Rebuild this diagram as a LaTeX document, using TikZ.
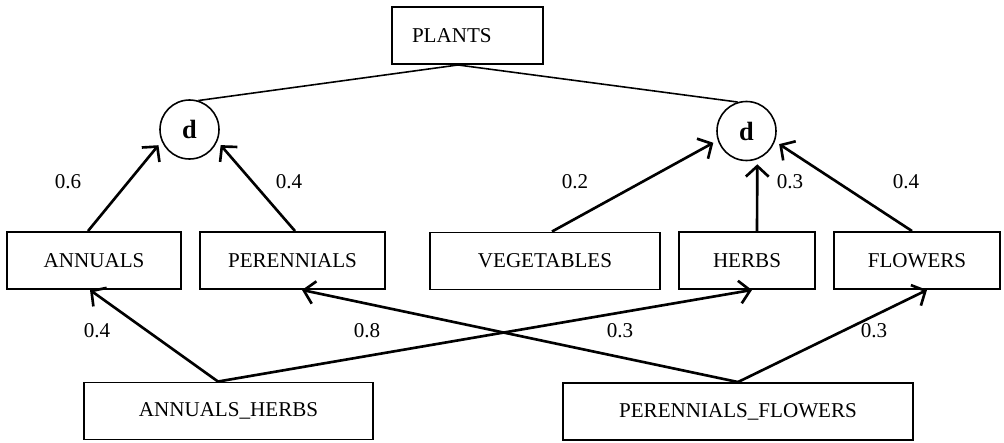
\documentclass[tikz,border=0pt]{standalone}
\usepackage{fontspec}
\setmainfont{Liberation Serif}
\usetikzlibrary{arrows.meta, calc}

\begin{document}
\begin{tikzpicture}[x=0.2mm, y=-0.2mm, font=\fontsize{12}{14}\selectfont,
  box/.style={draw, line width=1.1pt, minimum height=1.14cm, inner sep=0pt},
  dnode/.style={draw, circle, line width=0.9pt, minimum size=1.18cm, inner sep=0pt,
    font=\fontsize{15}{17}\selectfont\bfseries},
  link/.style={line width=0.9pt},
  wt/.style={->, line width=1.5pt},
  >={Straight Barb[length=6pt, width=13pt]}]
  \useasboundingbox (0,0) rectangle (1004,442);

  \node[box, text width=2.22cm, inner xsep=0.4cm, align=left] (plants) at (467.5,35.5) {PLANTS};
  \node[dnode] (dl) at (189.5,129.5) {d};
  \node[dnode] (dr) at (746.5,131) {d};

  \node[box, minimum width=3.48cm] (annuals)    at (94,260.5)  {ANNUALS};
  \node[box, minimum width=3.7cm]  (perennials) at (292.5,260.5) {PERENNIALS};
  \node[box, minimum width=4.6cm]  (vegetables) at (545,261)   {VEGETABLES};
  \node[box, minimum width=2.72cm] (herbs)      at (747,260.5) {HERBS};
  \node[box, minimum width=3.32cm] (flowers)    at (917,260.5) {FLOWERS};
  \node[box, minimum width=5.78cm] (annherbs)   at (228.5,411) {ANNUALS\_HERBS};
  \node[box, minimum width=7.0cm]  (perflowers) at (738,411.5) {PERENNIALS\_FLOWERS};

  % disjoint subclasses
  \draw[link] ($(plants.south)+(-9.5,0)$) coordinate (pj) -- (dl.73);
  \draw[link] (pj) -- (dr.107);

  \draw[wt, shorten >=0.1cm] ($(annuals.north)+(-6,0)$)    -- (dl.203);
  \draw[wt, shorten >=0.1cm] ($(perennials.north)+(2.5,0)$) -- (dl.337);
  \draw[wt, shorten >=0.1cm] ($(vegetables.north)+(7,0)$)  -- (dr.198);
  \draw[wt, shorten >=0.1cm] ($(herbs.north)+(10,0)$)      -- (dr.291);
  \draw[wt, shorten >=0.1cm] ($(flowers.north)+(-5,0)$)    -- (dr.340);

  % mixed classes
  \draw[wt] ($(annherbs.north)+(-10.5,0)$) coordinate (ah) -- ($(annuals.south)+(-4,0)$);
  \draw[wt] (ah) -- ($(herbs.south)+(5,0)$);
  \draw[wt] (perflowers.north) -- ($(perennials.south)+(9.5,0)$);
  \draw[wt] (perflowers.north) -- ($(flowers.south)+(10,0)$);

  \node (w1) at (68,182)  {0.6};
  \node (w2) at (289,182) {0.4};
  \node (w3) at (575,182) {0.2};
  \node (w4) at (790,182) {0.3};
  \node (w5) at (906,182) {0.4};
  \node (w6) at (97,331)  {0.4};
  \node (w7) at (367,331) {0.8};
  \node (w8) at (620,331) {0.3};
  \node (w9) at (874,331) {0.3};
\end{tikzpicture}
\end{document}
